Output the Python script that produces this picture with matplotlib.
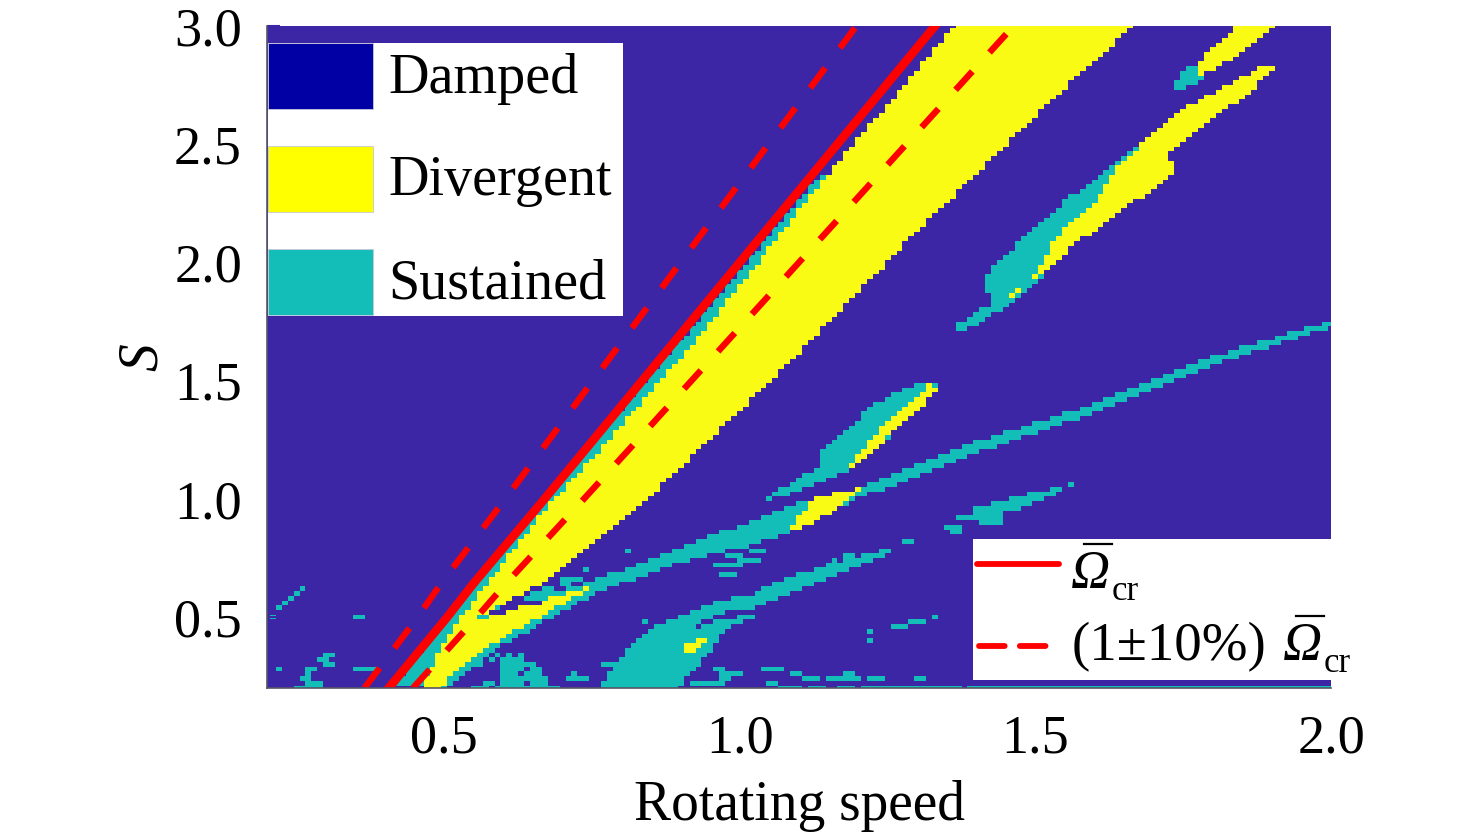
import numpy as np
import matplotlib
matplotlib.use('Agg')
import matplotlib.pyplot as plt
from matplotlib.colors import ListedColormap
from matplotlib.lines import Line2D
from matplotlib.patches import Rectangle
from matplotlib.path import Path

plt.rcParams['font.family'] = ['Liberation Serif', 'DejaVu Serif']

# grid of the map (rotating speed, S)
speed = np.arange(181) / 100 + 0.2
stiffness = np.arange(141) / 50 + 0.2

DAMPED, SUSTAINED, DIVERGENT = 0, 1, 2

# regions, (speed, S) outlines
main_sust_x = [.412, .550, .752, .933, 1.127, 1.156, .763, .476]
main_sust_s = [.2, .644, 1.241, 1.765, 2.349, 2.383, .995, .2]

band_sust_x = [.569, .662, .730, .865, 1.009, 1.131, 1.203, 1.203, 1.080, 1.000, .894, .763, .674, .565, .501, .488, .560]
band_sust_s = [.521, .598, .636, .758, .898, 1.008, 1.046, 1.008, .856, .792, .729, .606, .488, .331, .19, .19, .488]

line_sust_x = [1.203, 1.389, 1.608, 1.777, 2.01, 2.01, 1.777, 1.608, 1.389, 1.203]
line_sust_s = [1.052, 1.232, 1.410, 1.585, 1.762, 1.732, 1.546, 1.372, 1.182, 1.004]

lens_sust_x = [1.029, 1.102, 1.131, 1.131, 1.198, 1.208, 1.271, 1.317, 1.339, 1.319, 1.259, 1.186, 1.085]
lens_sust_s = [.982, 1.088, 1.135, 1.194, 1.321, 1.368, 1.461, 1.499, 1.482, 1.418, 1.279, 1.122, 1.016]

blob_sust_x = [.763, .789, .819, .848, .899, .933, .989, 1.029, 1.029, 1.102, 1.242, 1.268, 1.232, 1.124, 1.029, .978, .887, .978, 1.039, .975, .953, .890]
blob_sust_s = [.19, .310, .390, .458, .500, .543, .581, .581, .615, .686, .788, .792, .750, .644, .543, .521, .424, .496, .509, .454, .361, .19]

island_sust_x = [1.398, 1.449, 1.496, 1.559, 1.581, 1.554, 1.496, 1.449, 1.449, 1.401]
island_sust_s = [.961, .995, 1.025, 1.063, 1.071, 1.046, .983, .940, .898, .898]

small_sust_x = [1.242, 1.271, 1.339, 1.313, 1.254]
small_sust_s = [.454, .471, .505, .479, .437]

upper_sust_x = [1.359, 1.429, 1.429, 1.410, 1.410, 1.449, 1.462, 1.530, 1.550, 1.609, 1.660, 1.716, 1.731, 1.491, 1.452, 1.440, 1.378]
upper_sust_s = [1.723, 1.833, 1.875, 1.884, 1.926, 2.032, 2.065, 2.209, 2.264, 2.370, 2.467, 2.590, 2.581, 1.884, 1.820, 1.799, 1.702]

top_sust_x = [1.731, 1.731, 1.750, 1.779, 1.792, 1.804, 1.779, 1.741]
top_sust_s = [2.720, 2.751, 2.806, 2.848, 2.890, 2.878, 2.772, 2.720]

main_div_x = [.459, .501, .560, .667, .752, .933, 1.127, 1.369, 1.675, 1.550, 1.471, 1.389, 1.322, 1.088, .988, .865, .752, .667, .582, .557,
              .560, .662, .750, .662, .555, .488]
main_div_s = [.19, .403, .602, .945, 1.177, 1.693, 2.307, 3.02, 3.02, 2.738, 2.548, 2.349, 2.188, 1.587, 1.346, 1.050, .813, .644, .530, .500,
              .488, .572, .627, .500, .348, .19]

lens_low_div_x = [1.080, 1.102, 1.124, 1.203, 1.183, 1.131]
lens_low_div_s = [.856, .932, 1.004, 1.042, .987, .911]

lens_div_x = [1.186, 1.191, 1.242, 1.300, 1.319, 1.339, 1.319, 1.293, 1.259, 1.208]
lens_div_s = [1.131, 1.164, 1.312, 1.431, 1.482, 1.478, 1.418, 1.355, 1.279, 1.173]

blob_div_x = [.908, .908, .933, .950, .946, .924]
blob_div_s = [.340, .378, .416, .424, .395, .361]

upper_div_x = [1.452, 1.530, 1.562, 1.609, 1.672, 1.731, 1.731, 1.719, 1.731, 1.790, 1.851, 1.902, 1.911, 1.885, 1.851, 1.801, 1.758, 1.719, 1.682, 1.631, 1.601, 1.550, 1.530, 1.491, 1.449]
upper_div_s = [1.829, 1.981, 2.074, 2.146, 2.264, 2.378, 2.425, 2.446, 2.476, 2.594, 2.696, 2.814, 2.835, 2.827, 2.785, 2.721, 2.658, 2.594, 2.505, 2.378, 2.256, 2.146, 2.082, 1.913, 1.854]

top_div_x = [1.841, 1.911, 1.872, 1.829, 1.779, 1.770, 1.779, 1.792, 1.829]
top_div_s = [3.02, 3.02, 2.928, 2.856, 2.785, 2.781, 2.844, 2.899, 2.975]

# scattered sustained cells: first speed, last speed, S
speck_x0 = [.21, .22, .23, .24, .25, .26, .35, .30, .29, .30, .22, .27, .35, .37, .25, .27, .26, .27,
            .55, .59, .57, .60, .65, .60, .60, .64, .60, .65, .60, .63, .56, .58, .60, .62, .59, .61, .63, .71, .74, .72, .77,
            .81, .74, .70, .70, .67, .65, .64, .54, .84, .86, 1.02, .98, 1.00, .96, .97, .97, 1.28, 1.16, 1.18, 1.03,
            1.35, 1.36, 1.37, 1.22, 1.22, 1.04, 1.06, .96, .99, 1.09, 1.11, 1.13, 1.15, 1.17, 1.18, 1.19, 1.22, 1.30,
            .92, .95, .97, .97, 1.05, 1.07, 1.10, 1.12, 1.17, 1.21, 1.29, 1.39]
speck_x1 = [.21, .22, .23, .24, .25, .26, .36, .31, .30, .31, .22, .28, .36, .38, .29, .29, .27, .27,
            .57, .69, .58, .63, .67, .67, .62, .66, .63, .66, .62, .65, .56, .58, .61, .63, .59, .61, .63, .73, .74, .72, .78,
            .81, .74, .73, .71, .68, .67, .66, .54, .84, .87, 1.04, 1.00, 1.03, .97, 1.00, .99, 1.29, 1.16, 1.19, 1.04,
            1.37, 1.37, 1.39, 1.22, 1.22, 1.05, 1.07, .97, 1.00, 1.10, 1.12, 1.13, 1.16, 1.18, 1.19, 1.20, 1.24, 1.31,
            .94, .97, .98, .98, 1.06, 1.09, 1.10, 1.14, 1.19, 1.28, 1.37, 2.00]
speck_s = [.50, .54, .56, .58, .60, .62, .50, .34, .32, .30, .28, .28, .28, .28, .20, .22, .24, .26,
           .20, .20, .22, .22, .22, .24, .26, .26, .28, .28, .30, .30, .30, .32, .32, .32, .34, .34, .34, .24, .24, .26, .30,
           .78, .70, .66, .64, .62, .60, .58, .50, .48, .46, .78, .76, .74, .72, .72, .68, .82, .74, .76, .60,
           .88, .86, .92, .44, .40, .28, .28, .28, .26, .26, .24, .24, .24, .24, .26, .24, .24, .24,
           .22, .22, .24, .26, .22, .20, .20, .20, .20, .20, .20, .20]

# thin damped slit above the lower yellow branch
slit_x0 = [.58, .60, .62]
slit_x1 = [.60, .62, .66]
slit_s = [.52, .54, .56]

# critical speed and the +-10% lines
s_line = [.2, .5, .644, .983, 1.249, 2.116, 3.0]
omega_cr = [.406, .505, .550, .664, .752, 1.038, 1.330]
omega_low = [.365, .455, .495, .598, .677, .934, 1.197]
omega_high = [.447, .555, .605, .730, .827, 1.142, 1.463]

x_ticks = [0.5, 1.0, 1.5, 2.0]
y_ticks = [0.5, 1.0, 1.5, 2.0, 2.5, 3.0]
legend_names = ['Damped', 'Divergent', 'Sustained']

# build the map
xx, ss = np.meshgrid(speed, stiffness)
points = np.column_stack([xx.ravel(), ss.ravel()])
state = np.full(xx.shape, DAMPED)


def paint(x, s, value):
    inside = Path(np.column_stack([x, s])).contains_points(points)
    state[inside.reshape(xx.shape)] = value


def paint_cells(x0, x1, s, value):
    for a, b, c in zip(x0, x1, s):
        j = int(round((c - 0.2) * 50))
        i0 = int(round((a - 0.2) * 100))
        i1 = int(round((b - 0.2) * 100))
        state[j, i0:i1 + 1] = value


paint_cells(speck_x0, speck_x1, speck_s, SUSTAINED)
paint(main_sust_x, main_sust_s, SUSTAINED)
paint(band_sust_x, band_sust_s, SUSTAINED)
paint(line_sust_x, line_sust_s, SUSTAINED)
paint(lens_sust_x, lens_sust_s, SUSTAINED)
paint(blob_sust_x, blob_sust_s, SUSTAINED)
paint(island_sust_x, island_sust_s, SUSTAINED)
paint(small_sust_x, small_sust_s, SUSTAINED)
paint(upper_sust_x, upper_sust_s, SUSTAINED)
paint(top_sust_x, top_sust_s, SUSTAINED)
paint(main_div_x, main_div_s, DIVERGENT)
paint(lens_low_div_x, lens_low_div_s, DIVERGENT)
paint(lens_div_x, lens_div_s, DIVERGENT)
paint(blob_div_x, blob_div_s, DIVERGENT)
paint(upper_div_x, upper_div_s, DIVERGENT)
paint(top_div_x, top_div_s, DIVERGENT)
paint_cells(slit_x0, slit_x1, slit_s, DAMPED)

fig = plt.figure(figsize=(14.76, 8.38), dpi=100)
ax = fig.add_axes([267 / 1476, 150 / 838, 1064 / 1476, 662 / 838])

cmap = ListedColormap(['#3D26A6', '#13BDB8', '#F9FB15'])
ax.pcolormesh(speed, stiffness, state, cmap=cmap, vmin=-0.5, vmax=2.5, shading='nearest', rasterized=True)

ax.plot(omega_cr, s_line, color='#FF0000', lw=6.2)
ax.plot(omega_low, s_line, color='#FF0000', lw=4.6, ls=(0, (3.9, 3.9)))
ax.plot(omega_high, s_line, color='#FF0000', lw=4.6, ls=(0, (3.9, 4.0)))

ax.set_xlim(0.2, 2.0)
ax.set_ylim(0.2, 3.0)
ax.set_xticks(x_ticks)
ax.set_yticks(y_ticks)
ax.set_xticklabels(['%.1f' % v for v in x_ticks])
ax.set_yticklabels(['%.1f' % v for v in y_ticks])
ax.tick_params(axis='x', length=0, pad=19, labelsize=39)
ax.tick_params(axis='y', direction='in', length=9, width=1.5, color='#3D26A6', pad=18, labelsize=39)
for side in ['top', 'right']:
    ax.spines[side].set_visible(False)
for side in ['left', 'bottom']:
    ax.spines[side].set_color('#555566')
    ax.spines[side].set_linewidth(1.2)
ax.set_xlabel('Rotating speed', fontsize=40, labelpad=11)
ax.set_ylabel('S', fontsize=40, family='Liberation Serif', style='italic', labelpad=4)

# legends sit on a full figure overlay in pixel coordinates
over = fig.add_axes([0, 0, 1, 1], facecolor='none')
over.set_xlim(0, 1476)
over.set_ylim(838, 0)
over.axis('off')

over.add_patch(Rectangle((268, 43), 355, 273, facecolor='white', edgecolor='none'))
box_tops = [43, 146, 249]
box_colors = ['#0000A5', '#FFFF00', '#13BDB8']
baselines = [93, 195, 298]
for top, col, base, name in zip(box_tops, box_colors, baselines, legend_names):
    over.add_patch(Rectangle((268, top), 105, 66, facecolor=col, edgecolor='#C8C8D8', lw=0.6))
    over.text(388.5, base, name, fontsize=40.4, va='baseline', ha='left')

over.add_patch(Rectangle((973, 539), 358, 141, facecolor='white', edgecolor='none'))
over.add_line(Line2D([977, 1059], [564, 564], color='#FF0000', lw=4.2, solid_capstyle='round'))
over.add_line(Line2D([979, 1053], [646, 646], color='#FF0000', lw=4.2, ls=(0, (4.4, 2.6)), dash_capstyle='round'))

# the Omega-bar symbol is put together from pieces
for sym_x, base, bar_y in [(1071, 588, 544), (1283, 660, 616)]:
    over.text(sym_x, base, 'Ω', fontsize=39, family='Liberation Serif', style='italic', va='baseline', ha='left')
    over.text(sym_x + 41, base + 12, 'cr', fontsize=25, va='baseline', ha='left')
    over.add_line(Line2D([sym_x + 13, sym_x + 41], [bar_y, bar_y], color='black', lw=1.6))
over.text(1072, 660, '(1±10%)', fontsize=39.5, va='baseline', ha='left')

fig.savefig('out.png', dpi=100)
